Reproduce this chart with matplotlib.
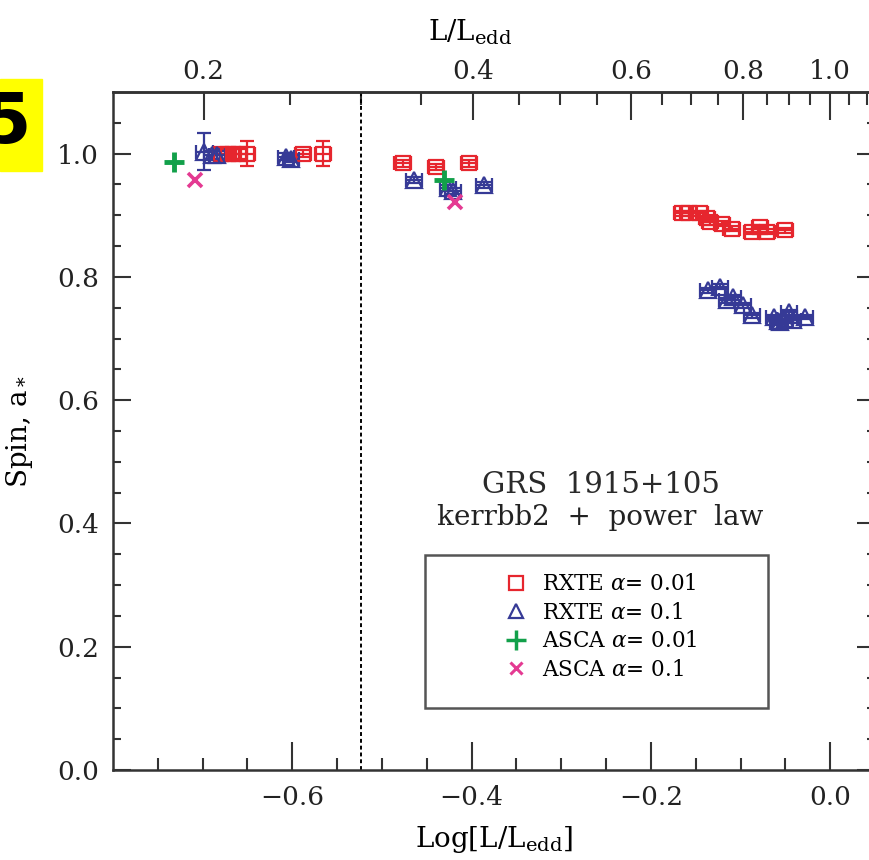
import matplotlib
matplotlib.use('Agg')
import matplotlib.pyplot as plt
from matplotlib.lines import Line2D
from matplotlib.patches import Rectangle
import numpy as np

plt.rcParams['font.family'] = ['DejaVu Serif']
plt.rcParams['mathtext.fontset'] = 'dejavuserif'

# RXTE fits, alpha = 0.01
rxte1_x = [-0.679, -0.672, -0.666, -0.659, -0.651, -0.588, -0.566,
           -0.477, -0.440, -0.403,
           -0.165, -0.158, -0.145, -0.137, -0.134, -0.121, -0.110,
           -0.087, -0.078, -0.071, -0.050]
rxte1_y = [1.000, 0.999, 1.000, 0.999, 1.000, 1.000, 1.000,
           0.984, 0.978, 0.984,
           0.903, 0.903, 0.903, 0.895, 0.889, 0.886, 0.878,
           0.873, 0.881, 0.873, 0.876]
rxte1_yerr = [0.008, 0.008, 0.008, 0.008, 0.02, 0.006, 0.02,
              0.005, 0.005, 0.005,
              0.004, 0.004, 0.004, 0.004, 0.004, 0.004, 0.004,
              0.004, 0.004, 0.004, 0.004]

# RXTE fits, alpha = 0.1
rxte2_x = [-0.698, -0.690, -0.684, -0.607, -0.601,
           -0.464, -0.426, -0.421, -0.386,
           -0.136, -0.123, -0.115, -0.108, -0.097, -0.087,
           -0.063, -0.058, -0.056, -0.050, -0.046, -0.041, -0.028]
rxte2_y = [1.003, 0.998, 0.998, 0.995, 0.992,
           0.957, 0.944, 0.940, 0.949,
           0.778, 0.784, 0.762, 0.767, 0.754, 0.738,
           0.735, 0.728, 0.727, 0.732, 0.743, 0.730, 0.735]
rxte2_yerr = [0.03, 0.006, 0.006, 0.006, 0.006,
              0.005, 0.005, 0.005, 0.005,
              0.004, 0.004, 0.004, 0.004, 0.004, 0.004,
              0.004, 0.004, 0.004, 0.004, 0.004, 0.004, 0.004]

# ASCA fits
asca1_x = [-0.732, -0.431]
asca1_y = [0.986, 0.957]
asca2_x = [-0.708, -0.418]
asca2_y = [0.958, 0.921]

xerr_all = 0.009
log_cut = np.log10(0.3)

red = '#e6262e'
blue = '#363a96'
green = '#12a04a'
magenta = '#e43a92'
axcol = '#333333'

fig = plt.figure(figsize=(8.7, 8.6), dpi=100)
ax = fig.add_axes([113 / 870, 90 / 860, 762 / 870, 678 / 860])

ax.errorbar(rxte1_x, rxte1_y, xerr=xerr_all, yerr=rxte1_yerr, fmt='s',
            ms=10, mfc='none', mec=red, mew=1.6, ecolor=red, elinewidth=1.6,
            capsize=5, capthick=1.6, zorder=3)
ax.errorbar(rxte2_x, rxte2_y, xerr=xerr_all, yerr=rxte2_yerr, fmt='^',
            ms=11, mfc='none', mec=blue, mew=1.6, ecolor=blue, elinewidth=1.6,
            capsize=5, capthick=1.6, zorder=3)
ax.plot(asca1_x, asca1_y, '+', ms=15, mew=3.5, color=green, zorder=4)
ax.plot(asca2_x, asca2_y, 'x', ms=10, mew=2.6, color=magenta, zorder=4)

ax.axvline(log_cut, color='black', lw=1.4, ls=(0, (2, 1.5)), zorder=2)

ax.set_xlim(-0.8, 0.05)
ax.set_ylim(0, 1.1)
ax.set_xticks([-0.6, -0.4, -0.2, 0.0])
ax.set_xticks(np.arange(-0.75, 0.05, 0.05), minor=True)
ax.set_yticks([0.0, 0.2, 0.4, 0.6, 0.8, 1.0])
ax.set_yticks(np.arange(0.05, 1.1, 0.05), minor=True)
ax.xaxis.set_major_formatter(matplotlib.ticker.FuncFormatter(
    lambda v, p: f'{v:.1f}'.replace('-', '\u2212') if abs(v) > 1e-9 else '0.0'))
ax.yaxis.set_major_formatter(matplotlib.ticker.FormatStrFormatter('%.1f'))

ax.tick_params(axis='x', which='major', direction='in', length=20, width=1.5,
               labelsize=19, pad=11, colors=axcol, labelcolor='#222222',
               top=False)
ax.tick_params(axis='x', which='minor', direction='in', length=9, width=1.5,
               colors=axcol, top=False)
ax.tick_params(axis='y', which='major', direction='in', length=13, width=1.5,
               labelsize=19, pad=10, colors=axcol, labelcolor='#222222',
               right=True)
ax.tick_params(axis='y', which='minor', direction='in', length=6, width=1.5,
               colors=axcol, right=True)
for s in ax.spines.values():
    s.set_color(axcol)
    s.set_linewidth(1.8)

ax.set_xlabel('Log[L/L$_{\\rm edd}$]', fontsize=20, labelpad=10)
ax.set_ylabel('Spin, a$_*$', fontsize=20, labelpad=16)

# linear L/Ledd scale along the top
top = ax.secondary_xaxis('top', functions=(lambda v: 10 ** v,
                                           lambda v: np.log10(np.clip(v, 1e-6, None))))
top.set_xticks([0.2, 0.4, 0.6, 0.8, 1.0])
top.set_xticks([t for t in np.arange(0.25, 1.12, 0.05)
                if min(abs(t - m) for m in [0.4, 0.6, 0.8, 1.0]) > 0.01], minor=True)
top.xaxis.set_major_formatter(matplotlib.ticker.FormatStrFormatter('%.1f'))
top.tick_params(which='major', direction='in', length=20, width=1.5,
                labelsize=19, pad=6, colors=axcol, labelcolor='#222222')
top.tick_params(which='minor', direction='in', length=9, width=1.5, colors=axcol)
top.spines['top'].set_color(axcol)
top.spines['top'].set_linewidth(1.8)
fig.text(470 / 870, (860 - 32) / 860, 'L/L$_{\\rm edd}$', ha='center',
         va='center', fontsize=20)

ax.text(-0.256, 0.462, 'GRS  1915+105', ha='center', va='center',
        fontsize=21, color='#2a2a2a')
ax.text(-0.256, 0.409, 'kerrbb2  +  power  law', ha='center', va='center',
        fontsize=20, color='#222222')

handles = [
    Line2D([], [], ls='none', marker='s', ms=10, mfc='none', mec=red, mew=1.6),
    Line2D([], [], ls='none', marker='^', ms=10, mfc='none', mec=blue, mew=1.6),
    Line2D([], [], ls='none', marker='+', ms=15, mew=2.5, color=green),
    Line2D([], [], ls='none', marker='x', ms=9, mew=2.2, color=magenta),
]
labels = ['RXTE $\\alpha$= 0.01', 'RXTE $\\alpha$= 0.1',
          'ASCA $\\alpha$= 0.01', 'ASCA $\\alpha$= 0.1']
ax.add_patch(Rectangle((0.409, 0.0914), 0.451, 0.2256, transform=ax.transAxes,
                       fill=False, ec='#555555', lw=1.8, zorder=5))
ax.legend(handles, labels, loc='upper left', bbox_to_anchor=(0.515, 0.29),
          frameon=False, fontsize=15.5, handlelength=1.0, handletextpad=0.7,
          labelspacing=0.3, borderpad=0, borderaxespad=0)

# panel tag in the corner
fig.patches.append(Rectangle((0, (860 - 171) / 860), 42 / 870, 92 / 860,
                             transform=fig.transFigure, color='#ffff00',
                             zorder=0))
fig.text(31 / 870, (860 - 124) / 860, '5', ha='right', va='center',
         fontsize=50, fontweight='bold', family='DejaVu Sans', color='black')

fig.savefig('out.png', dpi=100)
